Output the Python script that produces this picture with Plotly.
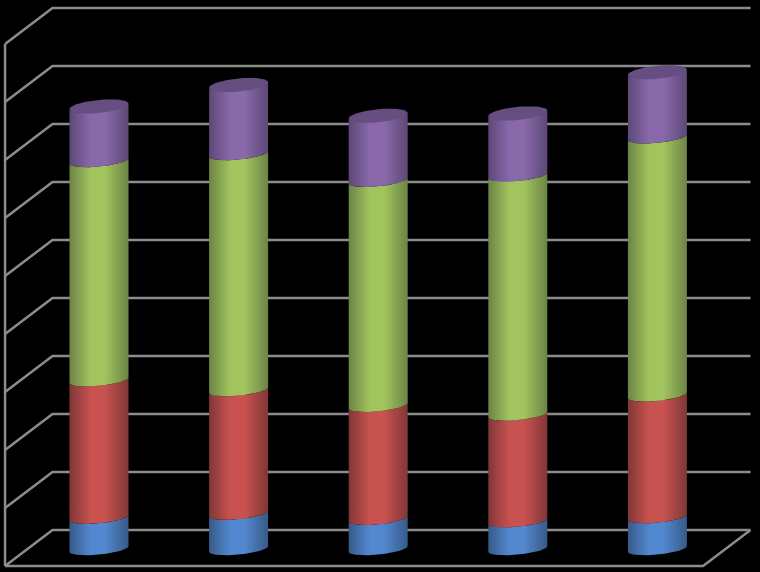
import numpy as np
import plotly.graph_objects as go

categories = [0, 1, 2, 3, 4]
blue_values = [5.4, 6.1, 5.2, 4.8, 5.5]
red_values = [23.7, 21.3, 19.5, 18.4, 21.0]
green_values = [37.8, 40.7, 38.8, 41.2, 44.5]
purple_values = [9.4, 11.9, 11.2, 10.7, 11.2]
grid_values = [0, 10, 20, 30, 40, 50, 60, 70, 80, 90]

series = [
    (blue_values, "#375a87", "#5288cf"),
    (red_values, "#803736", "#c85250"),
    (green_values, "#6c8445", "#a2c45e"),
    (purple_values, "#5c4876", "#8a69ab"),
]
CAP = "#674e80"
GRID = "#8c8c8c"

PX_X = 139.6
PX_Y = 5.8
R = 29.5 / PX_X
B = 5.6 / PX_Y
S = 2.8 / PX_Y
X_LEFT_FRONT, X_LEFT_BACK, X_RIGHT_BACK, X_RIGHT_FRONT = -0.673, -0.333, 4.667, 4.327
BACK_DY, FRONT_DY = 19 / PX_Y, -17 / PX_Y


def front_arc(cx, level):
    t = np.linspace(np.pi, 0, 41)
    return cx + R * np.cos(t), level - B * np.sin(t) + S * np.cos(t)


def cap_ellipse(cx, level):
    t = np.linspace(0, 2 * np.pi, 81)
    return cx + R * np.cos(t), level - (B + 1 / PX_Y) * np.sin(t) + S * np.cos(t)


fig = go.Figure()


def add_line(xs, ys):
    fig.add_trace(go.Scatter(x=xs, y=ys, mode="lines", hoverinfo="skip",
                             line=dict(color=GRID, width=2.5)))


for g in grid_values:
    add_line([X_LEFT_FRONT, X_LEFT_BACK, X_RIGHT_BACK],
             [g + FRONT_DY, g + BACK_DY, g + BACK_DY])
add_line([X_LEFT_FRONT, X_LEFT_FRONT], [grid_values[0] + FRONT_DY, grid_values[-1] + FRONT_DY])
add_line([X_LEFT_FRONT, X_RIGHT_FRONT, X_RIGHT_BACK],
         [grid_values[0] + FRONT_DY, grid_values[0] + FRONT_DY, grid_values[0] + BACK_DY])

for i, cat in enumerate(categories):
    base = 0.0
    for values, edge, centre in series:
        top = base + values[i]
        x0, y0 = front_arc(cat, base)
        x1, y1 = front_arc(cat, top)
        fig.add_trace(go.Scatter(
            x=np.concatenate([x0, x1[::-1], x0[:1]]),
            y=np.concatenate([y0, y1[::-1], y0[:1]]),
            mode="lines", fill="toself", hoverinfo="skip",
            line=dict(width=0, color=centre),
            fillgradient=dict(type="horizontal", colorscale=[
                [0, edge], [0.36, centre], [0.6, centre], [1, edge]]),
        ))
        base = top
    xc, yc = cap_ellipse(cat, base)
    fig.add_trace(go.Scatter(x=xc, y=yc, mode="lines", fill="toself", fillcolor=CAP,
                             hoverinfo="skip", line=dict(width=0, color=CAP)))

fig.update_layout(
    width=760, height=572, margin=dict(l=0, r=0, t=0, b=0),
    paper_bgcolor="black", plot_bgcolor="black", showlegend=False,
    xaxis=dict(visible=False, range=[-99 / PX_X, (760 - 99) / PX_X]),
    yaxis=dict(visible=False, range=[(549 - 572) / PX_Y, 549 / PX_Y]),
)
fig.write_html("out.html", config={"displayModeBar": False},
               post_script="document.body.style.margin='0';document.body.style.background='black';document.body.style.overflow='hidden';")
